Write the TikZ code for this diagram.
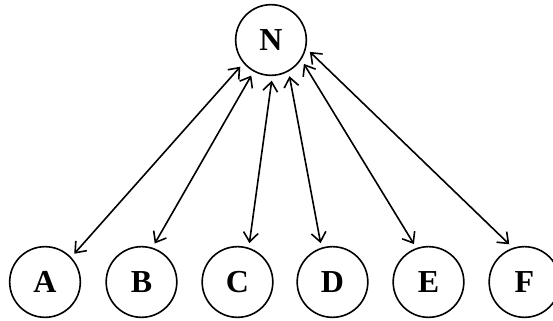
\documentclass[tikz,border=0pt]{standalone}
\usepackage{fontspec}
\setmainfont{Liberation Serif}
\usepackage{tikz}
\usetikzlibrary{arrows.meta}

\begin{document}
\begin{tikzpicture}[x=0.75pt,y=0.75pt]
\tikzstyle{every node}+=[inner sep=0pt]
\tikzstyle{vertex}=[draw=black, circle, line width=1.2pt, minimum size=53pt, outer sep=4pt, font=\fontsize{24}{28}\selectfont\bfseries]
\tikzstyle{link}=[black, line width=1.2pt, >={Straight Barb[length=7pt,width=11pt]}, <->]
\useasboundingbox (0,0) rectangle (553,-321);
\node [vertex] (N) at (271,-40) {N};
\node [vertex] (A) at (45,-282) {A};
\node [vertex] (B) at (141.5,-282) {B};
\node [vertex] (C) at (237.5,-282) {C};
\node [vertex] (D) at (332.5,-282) {D};
\node [vertex] (E) at (428.5,-282) {E};
\node [vertex] (F) at (524.5,-282) {F};
\draw [link] (A.44) -- (N.221);
\draw [link] (B.71) -- (N.241);
\draw [link] (C.73) -- (N.271);
\draw [link] (D.107) -- (N.297);
\draw [link] (E.111) -- (N.324);
\draw [link] (F.112) -- (N.343);
\end{tikzpicture}
\end{document}
